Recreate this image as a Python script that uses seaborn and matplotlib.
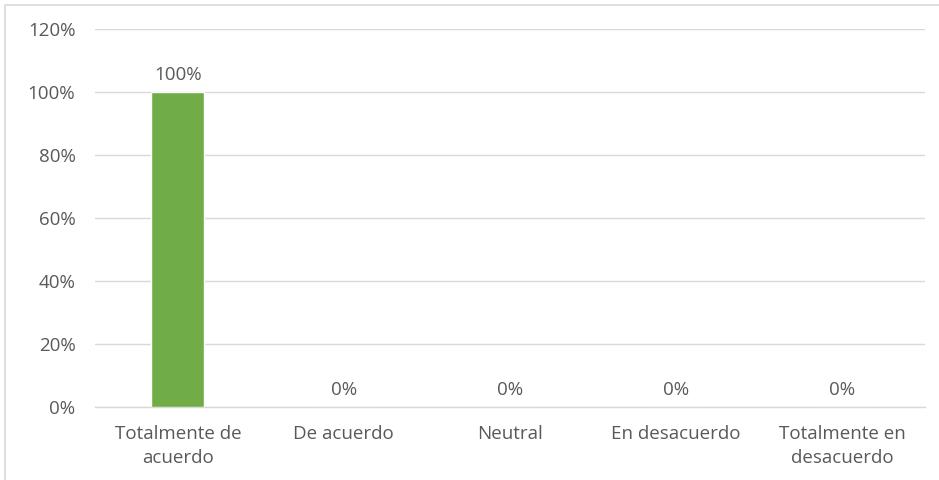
import pandas as pd
import matplotlib.pyplot as plt
import seaborn as sns
from matplotlib.patches import Rectangle
from matplotlib.ticker import PercentFormatter

sns.set_theme(style="white")
plt.rcParams["font.family"] = ["Open Sans", "DejaVu Sans"]

categorias = ["Totalmente de\nacuerdo", "De acuerdo", "Neutral",
              "En desacuerdo", "Totalmente en\ndesacuerdo"]
porcentajes = [100, 0, 0, 0, 0]
etiquetas = ["100%", "0%", "0%", "0%", "0%"]

df = pd.DataFrame({"cat": categorias, "pct": porcentajes})

fig = plt.figure(figsize=(9.39, 4.80), dpi=100)
ax = fig.add_axes([0.101, 0.152, 0.884, 0.788])

sns.barplot(data=df, x="cat", y="pct", color="#70AD47", saturation=1,
            width=0.32, ax=ax, zorder=3)

gray = "#595959"
fs = 13.5
ax.set_ylim(0, 120)
ax.set_yticks(range(0, 121, 20))
ax.yaxis.set_major_formatter(PercentFormatter(decimals=0))
ax.grid(axis="y", color="#D9D9D9", linewidth=1, zorder=0)
for s in ["top", "right", "left"]:
    ax.spines[s].set_visible(False)
ax.spines["bottom"].set_color("#D9D9D9")
ax.spines["bottom"].set_linewidth(1)
ax.tick_params(axis="both", length=0, colors=gray, labelsize=fs, pad=13)
ax.tick_params(axis="y", pad=14)
for lbl in ax.get_xticklabels():
    lbl.set_linespacing(1.4)
ax.set_xlabel("")
ax.set_ylabel("")

for i, (v, t) in enumerate(zip(porcentajes, etiquetas)):
    ax.annotate(t, (i, v), xytext=(0, 6), textcoords="offset points",
                ha="center", va="bottom", color=gray, fontsize=fs)

fig.patches.append(Rectangle((0.005, -0.01), 1.2, 1.0, transform=fig.transFigure,
                             fill=False, edgecolor="#D9D9D9", linewidth=1.2))

fig.savefig("out.png", dpi=100)
